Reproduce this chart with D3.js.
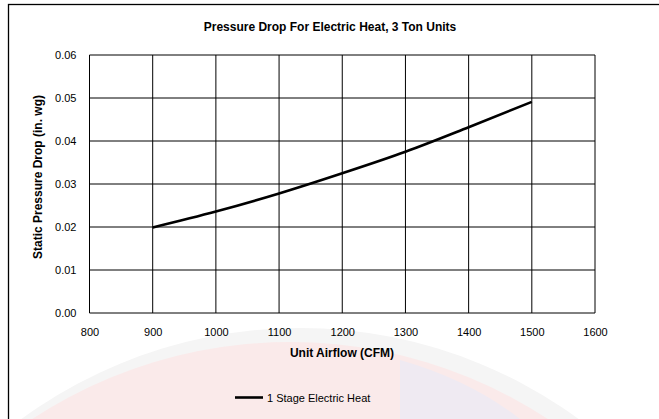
<!DOCTYPE html>
<html><head><meta charset="utf-8">
<script src="https://cdn.jsdelivr.net/npm/d3@7"></script>
<style>body{margin:0;background:#fff;}svg{display:block;font-family:"Liberation Sans",Arial,sans-serif;}</style>
</head><body>
<script>
const airflow = [900, 1000, 1100, 1200, 1300, 1400, 1500];
const pressureDrop = [0.0199, 0.0236, 0.0278, 0.0325, 0.0375, 0.0432, 0.0491];
const xTicks = [800, 900, 1000, 1100, 1200, 1300, 1400, 1500, 1600];
const yTicks = [0, 0.01, 0.02, 0.03, 0.04, 0.05, 0.06];
const seriesName = "1 Stage Electric Heat";
const title = "Pressure Drop For Electric Heat, 3 Ton Units";

const W = 659, H = 419;
const svg = d3.select("body").append("svg").attr("width", W).attr("height", H);

// faint watermark
svg.append("circle").attr("cx", 300).attr("cy", 800).attr("r", 472).attr("fill", "#f5f5f5");
svg.append("circle").attr("cx", 290).attr("cy", 812).attr("r", 470).attr("fill", "#faeaea");
svg.append("path").attr("d", "M400,419 L400,360 Q470,380 520,419 Z").attr("fill", "#efeaf2");

// outer frame
svg.append("rect").attr("x", 8.5).attr("y", 4.5).attr("width", 720).attr("height", 500)
  .attr("fill", "none").attr("stroke", "#000").attr("stroke-width", 1.3);

const x = d3.scaleLinear().domain([800, 1600]).range([89.5, 595]);
const y = d3.scaleLinear().domain([0, 0.06]).range([313, 55]);

const g = svg.append("g");
g.append("rect").attr("x", x(800)).attr("y", y(0.06)).attr("width", x(1600) - x(800))
  .attr("height", y(0) - y(0.06)).attr("fill", "#fff");
// gridlines
g.selectAll(".vg").data(xTicks).join("line")
  .attr("x1", d => x(d)).attr("x2", d => x(d)).attr("y1", y(0)).attr("y2", y(0.06))
  .attr("stroke", "#000").attr("stroke-width", 1);
g.selectAll(".hg").data(yTicks).join("line")
  .attr("y1", d => y(d)).attr("y2", d => y(d)).attr("x1", x(800)).attr("x2", x(1600))
  .attr("stroke", "#000").attr("stroke-width", 1);

const xAxis = svg.append("g").attr("transform", `translate(0,${y(0)})`)
  .call(d3.axisBottom(x).tickValues(xTicks).tickFormat(d3.format("d")).tickSize(0).tickPadding(15));
xAxis.select(".domain").remove();
xAxis.selectAll("text").attr("font-size", 11).attr("fill", "#000").attr("font-family", "Liberation Sans, Arial, sans-serif");

const yAxis = svg.append("g").attr("transform", `translate(${x(800)},0)`)
  .call(d3.axisLeft(y).tickValues(yTicks).tickFormat(d3.format(".2f")).tickSize(0).tickPadding(13));
yAxis.select(".domain").remove();
yAxis.selectAll("text").attr("font-size", 11).attr("fill", "#000").attr("font-family", "Liberation Sans, Arial, sans-serif");

const line = d3.line().x((d, i) => x(airflow[i])).y(d => y(d)).curve(d3.curveMonotoneX);
svg.append("path").attr("d", line(pressureDrop)).attr("fill", "none")
  .attr("stroke", "#000").attr("stroke-width", 2.6);

svg.append("text").attr("x", 330).attr("y", 31).attr("text-anchor", "middle")
  .attr("font-size", 12).attr("font-weight", "bold").text(title);
svg.append("text").attr("x", 342).attr("y", 357).attr("text-anchor", "middle")
  .attr("font-size", 12).attr("font-weight", "bold").text("Unit Airflow (CFM)");
svg.append("text").attr("transform", "translate(42,177) rotate(-90)").attr("text-anchor", "middle")
  .attr("font-size", 12).attr("font-weight", "bold").text("Static Pressure Drop (in. wg)");

svg.append("line").attr("x1", 235).attr("x2", 263).attr("y1", 397.5).attr("y2", 397.5)
  .attr("stroke", "#000").attr("stroke-width", 2.6);
svg.append("text").attr("x", 267).attr("y", 401.5).attr("font-size", 11).text(seriesName);
</script>
</body></html>
